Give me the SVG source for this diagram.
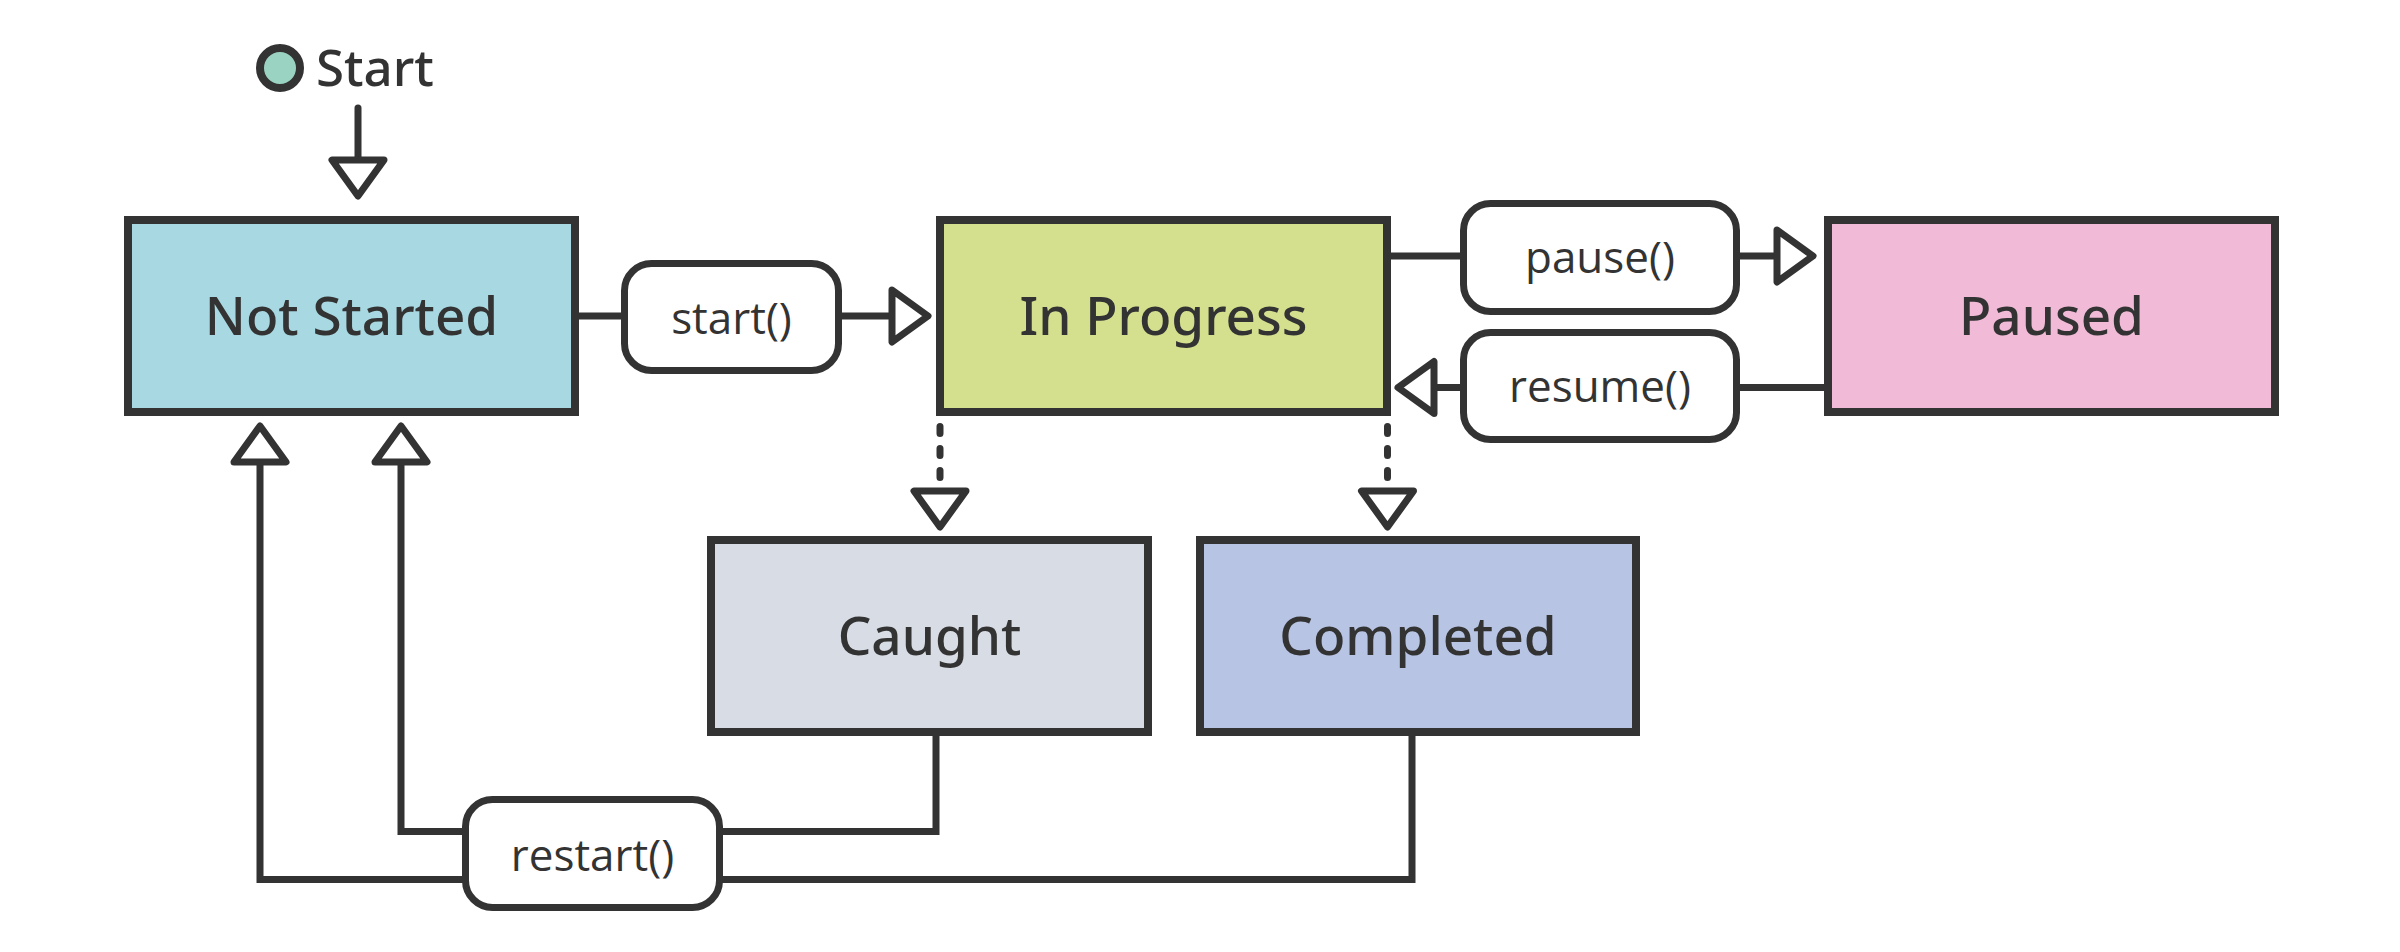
<svg xmlns="http://www.w3.org/2000/svg" width="2400" height="952" viewBox="0 0 2400 952">
<style>
  .node rect { stroke: #333333; stroke-width: 8; }
  .pill rect { fill: #ffffff; stroke: #333333; stroke-width: 7; }
  .lbl { font-family: "Open Sans", "Noto Sans", "Liberation Sans", sans-serif; font-weight: 500; fill: #333333; text-anchor: middle; }
  .nlbl { font-family: "Noto Sans", "Open Sans", sans-serif; font-size: 53px; font-weight: 500; }
  .slbl { font-family: "Noto Sans", "Open Sans", sans-serif; font-size: 51px; font-weight: 500; text-anchor: start; }
  .plbl { font-size: 44px; }
  .edge { fill: none; stroke: #333333; stroke-width: 7; stroke-linejoin: miter; stroke-linecap: butt; }
  .dash { stroke-dasharray: 7 15; stroke-linecap: round; }
  .arrowhead { fill: #ffffff; stroke: #333333; stroke-width: 7; stroke-linejoin: round; }
</style>
<defs>
  <marker id="tri" markerUnits="userSpaceOnUse" markerWidth="60" markerHeight="70" viewBox="-10 -35 60 70" refX="0" refY="0" orient="auto" overflow="visible">
    <path class="arrowhead" d="M0,-26 L36,0 L0,26 Z"/>
  </marker>
</defs>

<g id="start">
  <circle cx="280" cy="68" r="20" fill="#9bd3c2" stroke="#333333" stroke-width="8"/>
  <text class="lbl slbl" x="316" y="86">Start</text>
</g>

<g id="connectors">
  <path class="edge" d="M358,108 V160" marker-end="url(#tri)" style="stroke-linecap:round"/>
  <path class="edge" d="M578,316 H892" marker-end="url(#tri)"/>
  <path class="edge" d="M1390,256 H1777" marker-end="url(#tri)"/>
  <path class="edge" d="M1825,387.5 H1434" marker-end="url(#tri)"/>
  <path class="edge dash" d="M940,426.5 V491" marker-end="url(#tri)"/>
  <path class="edge dash" d="M1387.5,426.5 V491" marker-end="url(#tri)"/>
  <path class="edge" d="M936,734 V831.5 H401 V462" marker-end="url(#tri)"/>
  <path class="edge" d="M1412,734 V879.5 H260 V462" marker-end="url(#tri)"/>
</g>

<g id="label-start" class="pill">
  <rect x="624.5" y="263.5" width="214" height="107" rx="27"/>
  <text class="lbl plbl" x="731.5" y="334">start()</text>
</g>
<g id="label-pause" class="pill">
  <rect x="1463.5" y="203.5" width="273" height="108" rx="27"/>
  <text class="lbl plbl" x="1600" y="273">pause()</text>
</g>
<g id="label-resume" class="pill">
  <rect x="1463.5" y="332.5" width="273" height="107" rx="27"/>
  <text class="lbl plbl" x="1600" y="402">resume()</text>
</g>
<g id="label-restart" class="pill">
  <rect x="465.5" y="799.5" width="254" height="108" rx="27"/>
  <text class="lbl plbl" x="592.5" y="871">restart()</text>
</g>

<g id="not-started" class="node">
  <rect x="128" y="220" width="447" height="192" fill="#a8d9e2"/>
  <text class="lbl nlbl" x="351.5" y="335">Not Started</text>
</g>
<g id="in-progress" class="node">
  <rect x="940" y="220" width="447" height="192" fill="#d5e08e"/>
  <text class="lbl nlbl" x="1163.5" y="335">In Progress</text>
</g>
<g id="paused" class="node">
  <rect x="1828" y="220" width="447" height="192" fill="#f1bbd7"/>
  <text class="lbl nlbl" x="2051.5" y="335">Paused</text>
</g>
<g id="caught" class="node">
  <rect x="711" y="540" width="437" height="192" fill="#d8dce5"/>
  <text class="lbl nlbl" x="929.5" y="655">Caught</text>
</g>
<g id="completed" class="node">
  <rect x="1200" y="540" width="436" height="192" fill="#b8c4e4"/>
  <text class="lbl nlbl" x="1418" y="655">Completed</text>
</g>
</svg>
